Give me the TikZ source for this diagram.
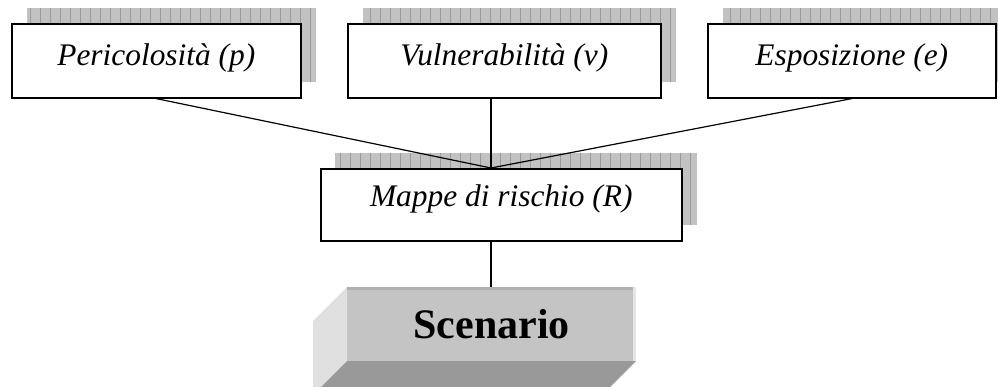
\documentclass[tikz,border=0pt]{standalone}
\usepackage{fontspec}
\setmainfont{Liberation Serif}
\definecolor{shfill}{HTML}{C2C2C2}
\definecolor{shgrid}{HTML}{9A9A9A}
\definecolor{frontc}{HTML}{C4C4C4}
\definecolor{topc}{HTML}{B0B0B0}
\definecolor{rightc}{HTML}{E6E6E6}
\definecolor{leftc}{HTML}{E0E0E0}
\definecolor{bottomc}{HTML}{999999}
\tikzset{
  boxnode/.style={draw=black, line width=1.6pt, fill=white, inner sep=0pt, anchor=north west,
    font=\fontsize{31.4}{36}\selectfont\itshape},
  conn/.style={line width=1.2pt, black},
  shadowgrid/.style={shgrid, line width=0.7pt},
}
\newcommand{\myshadow}[4]{%
  \fill[shfill] (#1,#2) rectangle (#3,#4);
  \begin{scope}
    \clip (#1,#2) rectangle (#3,#4);
    \draw[shadowgrid, step=10] (#1,#2) grid (#3,#4);
  \end{scope}}
\begin{document}
\begin{tikzpicture}[x=1pt, y=-1pt]
\useasboundingbox (0,0) rectangle (998,387);
\clip (0,0) rectangle (998,387);
% shadows
\myshadow{27}{8}{316}{82}
\myshadow{363}{8}{676}{82}
\myshadow{723}{8}{1011}{82}
\myshadow{335}{153}{697}{225}
% top boxes
\node[boxnode, minimum width=289pt, text height=42pt, text depth=32pt] (p) at (11,23) {Pericolosità (p)};
\node[boxnode, minimum width=313pt, text height=42pt, text depth=32pt] (v) at (347,23) {Vulnerabilità (v)};
\node[boxnode, minimum width=288pt, text height=42pt, text depth=32pt] (e) at (707,23) {Esposizione (e)};
% map box
\node[boxnode, minimum width=361pt, text height=38pt, text depth=34pt] (m) at (320,168) {Mappe di rischio (R)};
\coordinate (J) at (491,168);
% scenario 3D block
\fill[leftc] (347,287) -- (313,321) -- (313,395) -- (347,361) -- cycle;
\fill[bottomc] (347,361) -- (636,361) -- (602,395) -- (313,395) -- cycle;
\node[fill=frontc, inner sep=0pt, anchor=north west, minimum width=289pt,
  text height=51pt, text depth=23pt, font=\fontsize{42}{48}\selectfont\bfseries] (s) at (347,287) {Scenario};
\fill[topc] (s.north west) rectangle ([yshift=-2.5pt]s.north east);
\fill[rightc] ([xshift=-3pt]s.north east) rectangle (s.south east);
% connectors
\draw[conn] (p.south) -- (J);
\draw[conn] (v.south -| J) -- (J);
\draw[conn] (e.south) -- (J);
\draw[conn] (m.south -| J) -- (s.north -| J);
\end{tikzpicture}
\end{document}
